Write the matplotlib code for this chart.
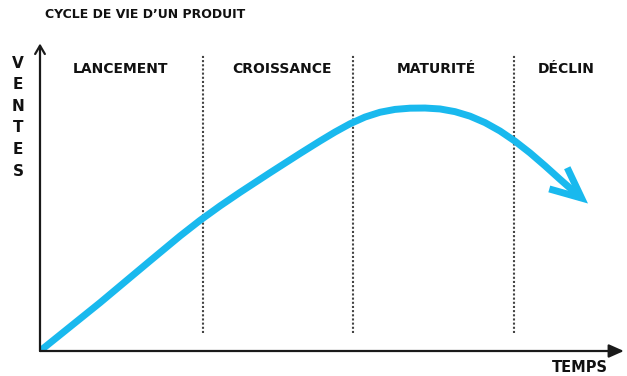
import matplotlib
matplotlib.use("Agg")
import matplotlib.pyplot as plt

# cycle de vie: temps (0-100) vs ventes (0-100)
temps = [0, 10.33, 18.93, 24.10, 27.54, 30.98, 34.42, 39.59, 44.75, 48.19, 50.77,
         53.36, 55.94, 58.52, 61.10, 63.68, 66.27, 68.85, 71.43, 74.01, 76.59,
         79.17, 81.76, 84.34, 86.92, 89.50, 92.08, 94.32]
ventes = [0, 15.78, 29.44, 37.58, 42.68, 47.39, 51.83, 58.25, 64.53, 68.61, 71.55,
          74.25, 76.45, 78.02, 78.95, 79.35, 79.40, 79.10, 78.22, 76.75, 74.64,
          71.90, 68.56, 64.74, 60.52, 56.11, 51.80, 48.20]
limites = [28.05, 53.9, 81.6]
phases = ["LANCEMENT", "CROISSANCE", "MATURITÉ", "DÉCLIN"]
phases_x = [13.9, 41.6, 68.3, 90.5]

font = dict(family="DejaVu Sans", fontweight="bold")
blue = "#19b9ee"
dark = "#1a1a1a"

fig = plt.figure(figsize=(6.27, 3.76), dpi=100)
ax = fig.add_axes([40 / 627, 25 / 376, 581 / 627, 306 / 376])
ax.set_xlim(0, 100)
ax.set_ylim(0, 100)
ax.axis("off")

# axes with arrows
ax.annotate("", xy=(100.5, 0), xytext=(0, 0),
            arrowprops=dict(arrowstyle="-|>,head_length=0.9,head_width=0.4",
                            color=dark, lw=1.6, shrinkA=0, shrinkB=0), annotation_clip=False)
ax.annotate("", xy=(0, 100.5), xytext=(0, 0),
            arrowprops=dict(arrowstyle="->,head_length=0.6,head_width=0.35",
                            color=dark, lw=1.6, shrinkA=0, shrinkB=0), annotation_clip=False)

for x in limites:
    ax.plot([x, x], [5.9, 96.7], color="#444444", lw=1.5, linestyle=(0, (1, 1)))

for name, x in zip(phases, phases_x):
    ax.text(x, 92.0, name, ha="center", va="center", fontsize=10, color="#111111", **font)

ax.plot(temps[:-1], ventes[:-1], color=blue, lw=5, solid_capstyle="round",
        solid_joinstyle="round")
ax.annotate("", xy=(temps[-1], ventes[-1]), xytext=(temps[-2], ventes[-2]),
            arrowprops=dict(arrowstyle="->,head_length=2.2,head_width=1.0",
                            mutation_scale=10, color=blue, lw=5,
                            shrinkA=0, shrinkB=0, capstyle="butt", joinstyle="miter"))

fig.text(145 / 627, 1 - 15 / 376, "CYCLE DE VIE D\u2019UN PRODUIT", ha="center", va="center",
         fontsize=9, color="#111111", **font)
fig.text(18 / 627, 1 - 117 / 376, "V\nE\nN\nT\nE\nS", ha="center", va="center",
         fontsize=11, color="#111111", linespacing=1.55, **font)
fig.text(580 / 627, 1 - 375 / 376, "TEMPS", ha="center", va="bottom",
         fontsize=10.5, color="#111111", **font)

fig.savefig("out.png", dpi=100)
